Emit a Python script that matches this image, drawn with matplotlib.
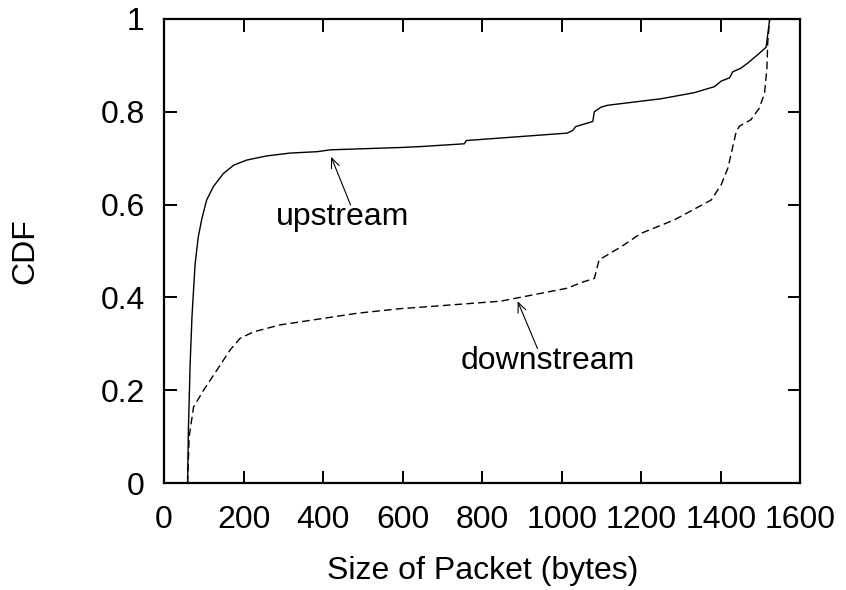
import matplotlib
matplotlib.use("Agg")
import matplotlib.pyplot as plt

plt.rcParams['font.family'] = ['Liberation Sans', 'DejaVu Sans']

# upstream packet size CDF (bytes, fraction)
up_x = [59, 61, 65.5, 70, 74, 78, 86, 95, 107, 124, 149, 175, 208, 259, 317, 385,
        418, 595, 645, 755, 760, 1014, 1028, 1035, 1078, 1082, 1099, 1116, 1250,
        1333, 1384, 1401, 1422, 1430, 1451, 1468, 1493, 1514, 1523]
up_y = [0.0, 0.114, 0.258, 0.358, 0.416, 0.473, 0.531, 0.570, 0.610, 0.639,
        0.667, 0.685, 0.696, 0.705, 0.711, 0.714, 0.718, 0.723, 0.725, 0.731,
        0.738, 0.754, 0.760, 0.768, 0.779, 0.800, 0.810, 0.814, 0.828, 0.841,
        0.854, 0.866, 0.873, 0.886, 0.894, 0.905, 0.923, 0.939, 1.0]

# downstream packet size CDF
down_x = [59, 63, 74, 99, 133, 166, 191, 225, 292, 385, 485, 595, 645, 846, 1014,
          1052, 1082, 1094, 1149, 1199, 1283, 1376, 1401, 1418, 1439, 1447, 1476,
          1497, 1510, 1516, 1518, 1523]
down_y = [0.0, 0.100, 0.164, 0.200, 0.244, 0.287, 0.312, 0.326, 0.341, 0.353,
          0.366, 0.376, 0.379, 0.392, 0.420, 0.433, 0.441, 0.481, 0.509, 0.538,
          0.567, 0.610, 0.643, 0.679, 0.758, 0.769, 0.783, 0.808, 0.840, 0.894,
          0.948, 1.0]

xticks = [0, 200, 400, 600, 800, 1000, 1200, 1400, 1600]
yticks = [0, 0.2, 0.4, 0.6, 0.8, 1]
ytick_labels = ["0", "0.2", "0.4", "0.6", "0.8", "1"]

fs = 23

fig = plt.figure(figsize=(8.46, 5.90), dpi=100)
ax = fig.add_axes([0.194, 0.181, 0.752, 0.787])

ax.plot(up_x, up_y, color='black', lw=1.0)
ax.plot(down_x, down_y, color='black', lw=1.0, linestyle=(0, (5.5, 3)))

ax.set_xlim(0, 1600)
ax.set_ylim(0, 1)
ax.set_xticks(xticks)
ax.set_yticks(yticks)
ax.set_yticklabels(ytick_labels)
ax.tick_params(direction='in', length=9, width=1.4, labelsize=fs,
               top=True, right=True)
ax.tick_params(axis='x', pad=16)
ax.tick_params(axis='y', pad=14)
for s in ax.spines.values():
    s.set_linewidth(1.6)

ax.set_xlabel("Size of Packet (bytes)", fontsize=fs, labelpad=15)
ax.set_ylabel("CDF", fontsize=fs, labelpad=43)

# curve labels with arrows pointing at the lines
arrow = dict(arrowstyle='->, head_length=0.7, head_width=0.3', color='black',
             lw=0.8, shrinkA=0, shrinkB=0)
ax.text(448, 0.556, "upstream", fontsize=fs, ha='center', va='baseline')
ax.annotate("", xy=(420, 0.703), xytext=(469, 0.599), arrowprops=arrow)
ax.text(966, 0.245, "downstream", fontsize=fs, ha='center', va='baseline')
ax.annotate("", xy=(889, 0.392), xytext=(939, 0.290), arrowprops=arrow)

fig.savefig("out.png", dpi=100)
